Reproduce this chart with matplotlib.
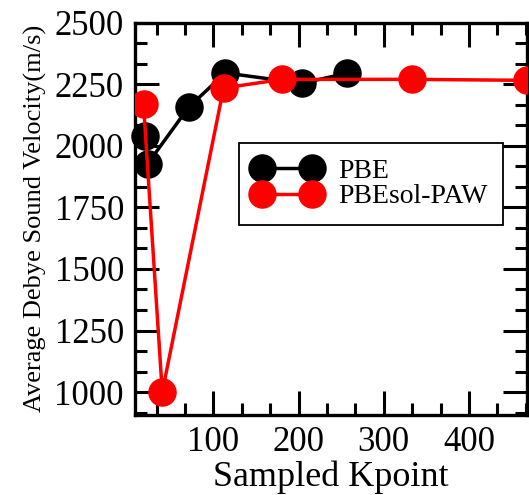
import matplotlib
matplotlib.use("Agg")
import matplotlib.pyplot as plt
from matplotlib.ticker import MultipleLocator

plt.rcParams["font.family"] = ["Liberation Serif", "DejaVu Serif"]

# k-point sampling study
pbe_k = [20, 23, 71, 114, 204, 257]
pbe_v = [2040, 1928, 2157, 2296, 2254, 2295]

pbesol_k = [18, 40, 112, 181, 333, 468]
pbesol_v = [2168, 1000, 2235, 2270, 2270, 2266]

fig = plt.figure(figsize=(5.29, 4.95), dpi=100)
ax = fig.add_axes([0.2552, 0.1616, 0.7408, 0.7925])

ax.plot(pbe_k, pbe_v, color="black", lw=2.5, marker="o", ms=19.5,
        label="PBE", clip_on=False, zorder=3)
ax.plot(pbesol_k, pbesol_v, color="#ff0000", lw=2.5, marker="o", ms=19.5,
        label="PBEsol-PAW", zorder=4)

ax.set_xlim(8, 468)
ax.set_ylim(907, 2500)
ax.set_xticks([100, 200, 300, 400])
ax.set_yticks([1000, 1250, 1500, 1750, 2000, 2250, 2500])
ax.xaxis.set_minor_locator(MultipleLocator(100 / 3))
ax.yaxis.set_minor_locator(MultipleLocator(250 / 3))

ax.tick_params(which="both", direction="in", top=True, right=True, width=2.2)
ax.tick_params(which="major", length=17, labelsize=25, pad=8)
ax.tick_params(which="minor", length=8.6)
for s in ax.spines.values():
    s.set_linewidth(2.4)

ax.set_xlabel("Sampled Kpoint", fontsize=26, labelpad=1)
ax.set_ylabel("Average Debye Sound Velocity(m/s)", fontsize=19, labelpad=5)

leg = ax.legend(loc="upper left", bbox_to_anchor=(0.265, 0.693), fontsize=20,
                numpoints=2, handlelength=2.4, handletextpad=0.62,
                borderpad=0.55, labelspacing=0.0, borderaxespad=0,
                fancybox=False, framealpha=1)
leg.get_frame().set_edgecolor("black")
leg.get_frame().set_linewidth(1.3)

fig.savefig("out.png", dpi=100)
